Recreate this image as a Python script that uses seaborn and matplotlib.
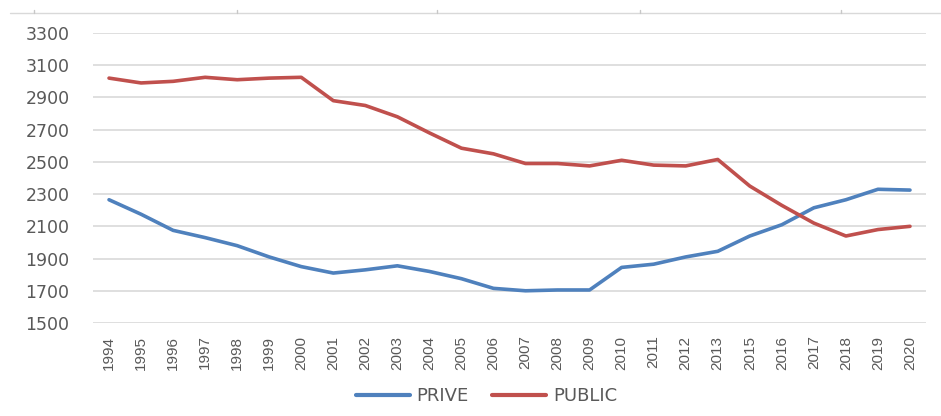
import pandas as pd
import matplotlib.pyplot as plt
import seaborn as sns
from matplotlib.lines import Line2D

# Données
annees = ['1994', '1995', '1996', '1997', '1998', '1999', '2000', '2001', '2002',
          '2003', '2004', '2005', '2006', '2007', '2008', '2009', '2010', '2011',
          '2012', '2013', '2015', '2016', '2017', '2018', '2019', '2020']
prive = [2265, 2175, 2075, 2030, 1980, 1910, 1850, 1810, 1830, 1855, 1820, 1775, 1715,
         1700, 1705, 1705, 1845, 1865, 1910, 1945, 2040, 2110, 2215, 2265, 2330, 2325]
public = [3020, 2990, 3000, 3025, 3010, 3020, 3025, 2880, 2850, 2780, 2680, 2585, 2550,
          2490, 2490, 2475, 2510, 2480, 2475, 2515, 2350, 2230, 2120, 2040, 2080, 2100]
series = ['PRIVE', 'PUBLIC']
couleurs = {'PRIVE': '#4F81BD', 'PUBLIC': '#C0504D'}
y_ticks = list(range(1500, 3301, 200))

df = pd.concat([
    pd.DataFrame({'Annee': annees, 'Valeur': prive, 'Serie': 'PRIVE'}),
    pd.DataFrame({'Annee': annees, 'Valeur': public, 'Serie': 'PUBLIC'}),
])

sns.set_theme(style="white")
plt.rcParams['font.family'] = ['Liberation Sans', 'DejaVu Sans']

fig = plt.figure(figsize=(9.41, 4.16), dpi=100)
ax = fig.add_axes([93 / 941, 93 / 416, 833 / 941, 290 / 416])

sns.lineplot(data=df, x='Annee', y='Valeur', hue='Serie', hue_order=series,
             palette=couleurs, linewidth=2.6, sort=False, ax=ax, legend=False)

ax.set_xlim(-0.5, len(annees) - 0.5)
ax.set_ylim(1500, 3300)
ax.set_yticks(y_ticks)
ax.yaxis.grid(True, color='#d9d9d9', linewidth=1.2)
ax.xaxis.grid(False)
for s in ax.spines.values():
    s.set_visible(False)
ax.tick_params(axis='both', length=0, colors='#595959')
ax.tick_params(axis='y', labelsize=12.5, pad=17)
ax.tick_params(axis='x', labelsize=11, rotation=90, pad=9)
for lab in ax.get_yticklabels():
    lab.set_family(['DejaVu Sans'])
ax.set_xlabel('')
ax.set_ylabel('')

# Légende en bas
poignees = [Line2D([0], [0], color=couleurs[s], linewidth=3) for s in series]
fig.legend(poignees, series, loc='center', bbox_to_anchor=(0.517, 20 / 416),
           ncol=2, frameon=False, handlelength=3.0, handletextpad=0.35, columnspacing=1.3,
           prop={'family': ['DejaVu Sans'], 'size': 13})
for t in fig.legends[0].get_texts():
    t.set_color('#595959')

# Reste du cadre supérieur
fig.add_artist(Line2D([10 / 941, 1], [403 / 416, 403 / 416], color='#d9d9d9', linewidth=1))
for xt in [34, 237, 437, 640, 841]:
    fig.add_artist(Line2D([xt / 941, xt / 941], [403 / 416, 406 / 416], color='#c8c8c8', linewidth=1))

plt.savefig('out.png', dpi=100)
plt.close()
